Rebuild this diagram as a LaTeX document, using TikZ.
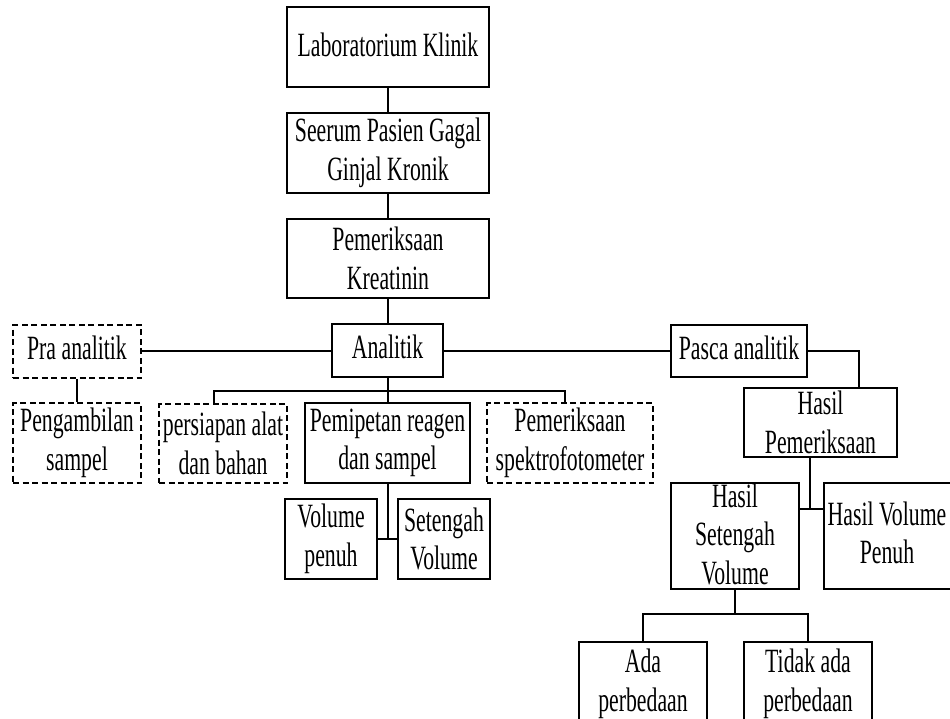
\documentclass[tikz,border=0pt]{standalone}
\usepackage{fontspec}
\setmainfont{Liberation Serif}[FakeStretch=0.64]
\begin{document}
\begin{tikzpicture}[x=1pt,y=-1pt,
  box/.style={draw, line width=2.2pt, inner sep=0pt},
  dbox/.style={box, dash pattern=on 6pt off 3.5pt},
  txt/.style={inner sep=0pt, align=center, font=\fontsize{34}{38.5}\selectfont},
  link/.style={line width=2pt}]
\useasboundingbox (0,0) rectangle (950,719);
\clip (0,0) rectangle (950,719);
% top column
\node[box, minimum width=202pt, minimum height=80pt] (lab) at (388,47) {};
\node[txt, anchor=base] (labt) at (388,57) {Laboratorium Klinik};
\node[box, minimum width=202pt, minimum height=80pt] (seer) at (388,153) {};
\node[txt] (seert) at (seer) {Seerum Pasien Gagal\\Ginjal Kronik};
\node[box, minimum width=202pt, minimum height=79pt] (krea) at (388,258.5) {};
\node[txt] (kreat) at (krea) {Pemeriksaan\\Kreatinin};
% level 2
\node[box, minimum width=111pt, minimum height=53pt] (anal) at (387.5,350.5) {};
\node[txt, anchor=base] (analt) at (387.5,358) {Analitik};
\node[dbox, minimum width=128pt, minimum height=53pt] (pra) at (77,351.5) {};
\node[txt, anchor=base] (prat) at (77,359) {Pra analitik};
\node[box, minimum width=136pt, minimum height=52pt] (pasca) at (739,351) {};
\node[txt, anchor=base] (pascat) at (739,359) {Pasca analitik};
% level 3
\node[dbox, minimum width=128pt, minimum height=80pt] (peng) at (77,443) {};
\node[txt] (pengt) at (peng) {Pengambilan\\sampel};
\node[dbox, minimum width=128pt, minimum height=79pt] (pers) at (223,443.5) {};
\node[txt] (perst) at (pers) {persiapan alat\\dan bahan};
\node[box, minimum width=165pt, minimum height=80pt] (pemip) at (387.5,443) {};
\node[txt] (pemipt) at (pemip) {Pemipetan reagen\\dan sampel};
\node[dbox, minimum width=166pt, minimum height=80pt] (spek) at (570,443) {};
\node[txt] (spekt) at (spek) {Pemeriksaan\\spektrofotometer};
\node[box, minimum width=153pt, minimum height=69pt] (hasilp) at (820.5,422.5) {};
\node[txt] (hasilpt) at (hasilp) {Hasil\\Pemeriksaan};
% level 4
\node[box, minimum width=92pt, minimum height=80pt] (volp) at (331,539) {};
\node[txt] (volpt) at (volp) {Volume\\penuh};
\node[box, minimum width=92pt, minimum height=80pt] (seteng) at (444,539) {};
\node[txt] (setengt) at (seteng) {Setengah\\Volume};
\node[box, minimum width=128pt, minimum height=106pt] (hsv) at (735,536) {};
\node[txt] (hsvt) at (735,534) {Hasil\\Setengah\\Volume};
\node[box, minimum width=166pt, minimum height=106pt] (hvp) at (907,536) {};
\node[txt] (hvpt) at (887,533) {Hasil Volume\\Penuh};
% level 5
\node[box, minimum width=128pt, minimum height=138pt] (ada) at (643,711) {};
\node[txt, anchor=north] (adat) at (643,649) {Ada\\perbedaan};
\node[box, minimum width=128pt, minimum height=138pt] (tidak) at (808,711) {};
\node[txt, anchor=north] (tidakt) at (808,649) {Tidak ada\\perbedaan};
% connectors
\draw[link] (lab.south) -- (seer.north);
\draw[link] (seer.south) -- (krea.north);
\draw[link] (krea.south) -- (krea.south |- anal.north);
\draw[link] (pra.east |- anal.west) -- (anal.west);
\draw[link] (anal.east) -- (pasca.west |- anal.east);
\coordinate (pc) at (859,351);
\draw[link] (pasca.east) -- (pc) -- (pc |- hasilp.north);
\draw[link] (pra.south) -- (peng.north);
\coordinate (bus) at (387.5,391);
\draw[link] (anal.south) -- (pemip.north);
\draw[link] ([xshift=-9pt]pers.north) |- (bus) -| ([xshift=-5pt]spek.north);
\draw[link] (pemip.south) -- (pemip.south |- volp.east);
\draw[link] (volp.east) -- (seteng.west);
\coordinate (j2) at (810,509);
\draw[link] ([xshift=-10.5pt]hasilp.south) -- (j2);
\draw[link] (hsv.east |- j2) -- (hvp.west |- j2);
\coordinate (j3) at (734,614);
\draw[link] (hsv.south) -- (hsv.south |- j3);
\draw[link] (ada.north) |- (j3) -| (tidak.north);
\end{tikzpicture}
\end{document}
